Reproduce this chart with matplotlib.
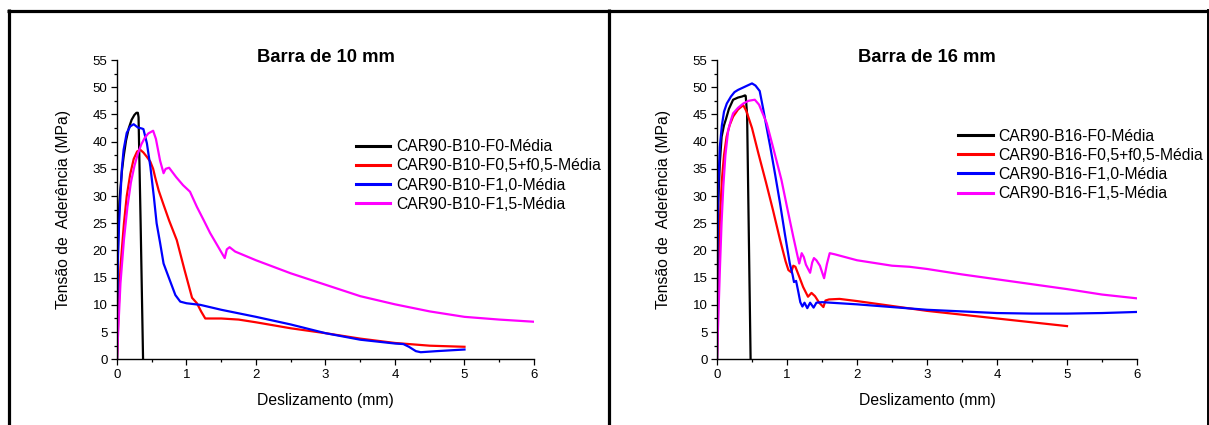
import matplotlib
matplotlib.use("Agg")
import matplotlib.pyplot as plt
from matplotlib.lines import Line2D
from matplotlib.ticker import MultipleLocator

plt.rcParams['font.family'] = ['Liberation Sans', 'DejaVu Sans']

# ---- Bar 10 mm: bond stress (MPa) vs slip (mm) ----
b10_f0_x = [0, 0.004, 0.01, 0.02, 0.035, 0.05, 0.07, 0.095, 0.13, 0.17, 0.21, 0.25, 0.28, 0.30, 0.31, 0.34, 0.375]
b10_f0_y = [0, 10, 18, 24, 29, 31.5, 34.5, 37.2, 40.2, 42.5, 44.0, 44.9, 45.3, 45.3, 44.5, 25, 0]

b10_f05_x = [0, 0.02, 0.05, 0.10, 0.14, 0.19, 0.24, 0.29, 0.335, 0.38, 0.43, 0.48, 0.52, 0.55, 0.60, 0.67,
             0.75, 0.86, 0.97, 1.08, 1.15, 1.21, 1.27, 1.5, 1.75, 2.0, 2.5, 3.0, 3.5, 4.0, 4.5, 5.0]
b10_f05_y = [0, 8, 17, 25, 30, 34, 36.8, 38.2, 38.5, 38.0, 37.2, 36.3, 35.0, 33.4, 31.0, 28.4,
             25.5, 21.9, 16.5, 11.3, 10.3, 8.8, 7.5, 7.5, 7.3, 6.8, 5.7, 4.8, 3.8, 3.0, 2.5, 2.3]

b10_f10_x = [0, 0.005, 0.015, 0.03, 0.047, 0.07, 0.095, 0.14, 0.19, 0.24, 0.30, 0.36, 0.38, 0.43, 0.48, 0.53,
             0.57, 0.62, 0.67, 0.74, 0.84, 0.91, 1.0, 1.2, 1.5, 2.0, 2.5, 3.0, 3.5, 4.0, 4.12, 4.2, 4.3,
             4.37, 4.6, 5.0]
b10_f10_y = [0, 10, 19, 25, 29.3, 35, 38.5, 41.6, 42.8, 43.2, 42.6, 42.4, 42.3, 39.7, 35.4, 29.9,
             25.0, 21.4, 17.6, 15.2, 11.8, 10.6, 10.3, 10.0, 9.1, 7.8, 6.4, 4.8, 3.6, 2.9, 2.8, 2.3, 1.5,
             1.3, 1.5, 1.8]

b10_f15_x = [0, 0.02, 0.05, 0.10, 0.15, 0.20, 0.25, 0.30, 0.35, 0.40, 0.45, 0.52, 0.56, 0.62, 0.67, 0.70,
             0.75, 0.85, 0.95, 1.05, 1.15, 1.25, 1.34, 1.45, 1.55, 1.58, 1.62, 1.7, 2.0, 2.5, 3.0, 3.5,
             4.0, 4.5, 5.0, 5.5, 6.0]
b10_f15_y = [0, 6, 14, 22, 28, 32.5, 35.5, 37.8, 39.5, 40.7, 41.5, 42.0, 40.5, 36.5, 34.2, 35.0,
             35.2, 33.5, 32.0, 30.8, 28.0, 25.5, 23.2, 20.8, 18.6, 20.2, 20.6, 19.8, 18.2, 15.8, 13.7, 11.6,
             10.1, 8.8, 7.8, 7.3, 6.9]

# ---- Bar 16 mm ----
b16_f0_x = [0, 0.005, 0.017, 0.04, 0.066, 0.10, 0.127, 0.17, 0.23, 0.30, 0.36, 0.40, 0.41, 0.43, 0.48]
b16_f0_y = [0, 15, 28.7, 36, 40.9, 43, 44.1, 46, 47.7, 48.1, 48.3, 48.5, 48.4, 45, 0]

b16_f05_x = [0, 0.015, 0.041, 0.07, 0.10, 0.137, 0.18, 0.23, 0.30, 0.375, 0.42, 0.50, 0.59, 0.70, 0.80,
             0.90, 0.98, 1.02, 1.06, 1.09, 1.12, 1.18, 1.23, 1.30, 1.35, 1.40, 1.46, 1.52, 1.55, 1.60,
             1.75, 2.0, 2.5, 3.0, 3.5, 4.0, 4.5, 5.0]
b16_f05_y = [0, 12, 25.6, 33, 37.5, 40.9, 43, 44.6, 45.9, 46.7, 45.6, 42.5, 37.9, 32.5, 27.4,
             22.0, 18.0, 16.4, 16.0, 17.2, 17.0, 15.0, 13.3, 11.5, 12.2, 11.6, 10.4, 9.6, 10.8, 11.0,
             11.1, 10.7, 9.8, 8.9, 8.2, 7.5, 6.8, 6.1]

b16_f10_x = [0, 0.008, 0.02, 0.04, 0.07, 0.10, 0.14, 0.20, 0.25, 0.30, 0.40, 0.50, 0.55, 0.61, 0.66, 0.71,
             0.76, 0.83, 0.90, 0.97, 1.04, 1.08, 1.10, 1.13, 1.16, 1.19, 1.22, 1.25, 1.29, 1.33, 1.38,
             1.42, 1.5, 2.0, 2.5, 3.0, 3.5, 4.0, 4.5, 5.0, 5.5, 6.0]
b16_f10_y = [0, 20, 32, 39, 43, 45.5, 47, 48.3, 49.1, 49.5, 50.1, 50.7, 50.3, 49.3, 46, 42.5,
             39.1, 34, 28.7, 23, 17.6, 15.5, 14.2, 14.4, 12.5, 10.5, 9.7, 10.4, 9.4, 10.4, 9.5,
             10.4, 10.5, 10.1, 9.6, 9.1, 8.8, 8.5, 8.4, 8.4, 8.5, 8.7]

b16_f15_x = [0, 0.015, 0.041, 0.065, 0.09, 0.12, 0.16, 0.20, 0.23, 0.30, 0.375, 0.45, 0.54, 0.60, 0.71,
             0.80, 0.92, 1.0, 1.09, 1.15, 1.175, 1.21, 1.24, 1.27, 1.33, 1.36, 1.385, 1.42, 1.47, 1.53,
             1.57, 1.61, 1.68, 2.0, 2.5, 2.75, 3.0, 3.5, 4.0, 4.5, 5.0, 5.5, 6.0]
b16_f15_y = [0, 6, 16.4, 25, 31.7, 37.5, 42.1, 44, 45.2, 46.2, 47, 47.5, 47.7, 46.8, 43.4,
             39, 33, 28, 22.5, 19, 17.6, 19.5, 18.8, 17.4, 15.9, 17.8, 18.6, 18.2, 17.2, 14.9,
             17.5, 19.5, 19.3, 18.2, 17.2, 17.0, 16.6, 15.6, 14.7, 13.8, 12.9, 11.9, 11.2]

titles = ["Barra de 10 mm", "Barra de 16 mm"]
labels_b10 = ["CAR90-B10-F0-Média", "CAR90-B10-F0,5+f0,5-Média",
              "CAR90-B10-F1,0-Média", "CAR90-B10-F1,5-Média"]
labels_b16 = ["CAR90-B16-F0-Média", "CAR90-B16-F0,5+f0,5-Média",
              "CAR90-B16-F1,0-Média", "CAR90-B16-F1,5-Média"]
colors = ["#000000", "#ff0000", "#0000ff", "#ff00ff"]

W, H = 1209, 425
fig = plt.figure(figsize=(W / 100, H / 100), dpi=100)


def px_axes(left, top, right, bottom):
    return fig.add_axes([left / W, 1 - bottom / H, (right - left) / W, (bottom - top) / H])


def draw_panel(ax, series, labels, title, leg_anchor):
    for (x, y), lab, c in zip(series, labels, colors):
        ax.plot(x, y, color=c, lw=1.6, label=lab, solid_joinstyle='round')
    ax.set_xlim(0, 6)
    ax.set_ylim(0, 55)
    ax.xaxis.set_major_locator(MultipleLocator(1))
    ax.xaxis.set_minor_locator(MultipleLocator(0.5))
    ax.yaxis.set_major_locator(MultipleLocator(5))
    ax.yaxis.set_minor_locator(MultipleLocator(2.5))
    ax.tick_params(which='major', direction='out', length=4.3, width=0.9, labelsize=9.5, pad=2.5)
    ax.tick_params(which='minor', direction='out', length=2.2, width=0.9)
    for s in ('top', 'right'):
        ax.spines[s].set_visible(False)
    for s in ('left', 'bottom'):
        ax.spines[s].set_linewidth(1.0)
    ax.set_xlabel("Deslizamento (mm)", fontsize=11.3)
    ax.set_ylabel("Tensão de  Aderência (MPa)", fontsize=11.3)
    ax.xaxis.set_label_coords(0.5, -0.136)
    ax.xaxis.label.set_va('center')
    ax.yaxis.set_label_coords(-0.128, 0.5)
    ax.yaxis.label.set_va('center')
    ax.text(0.5, 1.007, title, transform=ax.transAxes, ha='center', va='center',
            fontsize=13.2, fontweight='bold')
    leg = ax.legend(loc='upper left', bbox_to_anchor=leg_anchor, frameon=False, fontsize=11.3,
                    handlelength=2.2, handletextpad=0.35, labelspacing=0.265, borderpad=0,
                    borderaxespad=0)
    for h in leg.get_lines():
        h.set_linewidth(2.2)


ax1 = px_axes(117, 60, 534, 359.3)
draw_panel(ax1, [(b10_f0_x, b10_f0_y), (b10_f05_x, b10_f05_y),
                 (b10_f10_x, b10_f10_y), (b10_f15_x, b10_f15_y)],
           labels_b10, titles[0], (0.573, 0.735))

ax2 = px_axes(717, 60, 1137, 359.3)
draw_panel(ax2, [(b16_f0_x, b16_f0_y), (b16_f05_x, b16_f05_y),
                 (b16_f10_x, b16_f10_y), (b16_f15_x, b16_f15_y)],
           labels_b16, titles[1], (0.574, 0.771))

# Frame around the two panels (open at the bottom)
def fig_line(xs, ys, lw):
    fig.add_artist(Line2D([x / W for x in xs], [1 - y / H for y in ys], color='black',
                          lw=lw, solid_capstyle='butt', transform=fig.transFigure))

fig_line([7, 1208.5], [10.5, 10.5], 2.3)
fig_line([8.5, 8.5], [9, 425], 2.3)
fig_line([609.3, 609.3], [9, 425], 2.3)
fig_line([1207.5, 1207.5], [9, 425], 1.4)

fig.savefig("out.png", dpi=100)
